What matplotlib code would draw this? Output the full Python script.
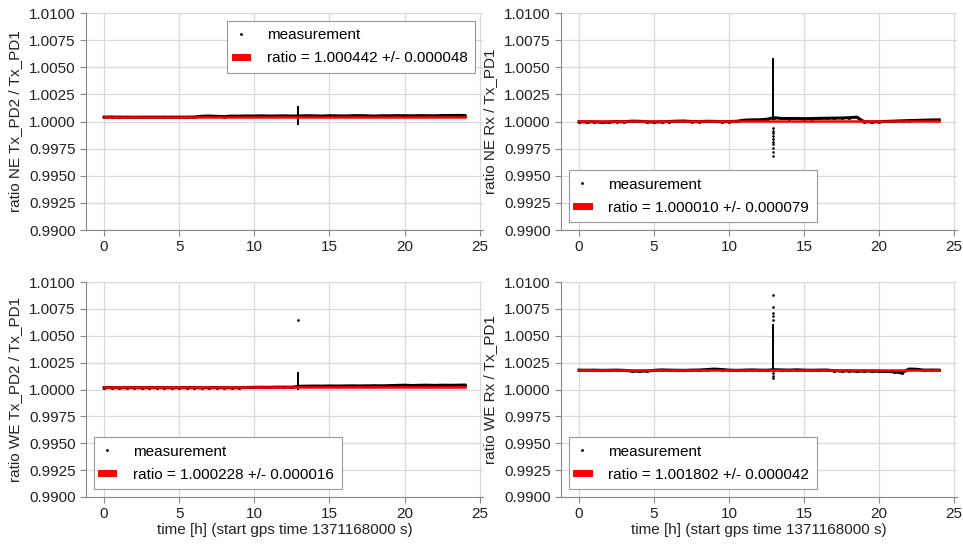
import matplotlib
matplotlib.use('Agg')
import matplotlib.pyplot as plt
from matplotlib.lines import Line2D

plt.rcParams['font.family'] = ['Liberation Sans', 'DejaVu Sans']
plt.rcParams['font.size'] = 11

# sampling times [h]
hours = [0.0, 0.5, 1.0, 1.5, 2.0, 2.5, 3.0, 3.5, 4.0, 4.5, 5.0, 5.5, 6.0,
         6.5, 7.0, 7.5, 8.0, 8.5, 9.0, 9.5, 10.0, 10.5, 11.0, 11.5, 12.0,
         12.5, 13.0, 13.5, 14.0, 14.5, 15.0, 15.5, 16.0, 16.5, 17.0, 17.5,
         18.0, 18.5, 19.0, 19.5, 20.0, 20.5, 21.0, 21.5, 22.0, 22.5, 23.0,
         23.5, 24.0]

ne_pd = [1.00040, 1.00041, 1.00040, 1.00040, 1.00039, 1.00040, 1.00040,
         1.00040, 1.00040, 1.00040, 1.00040, 1.00040, 1.00041,
         1.00048, 1.00050, 1.00047, 1.00045, 1.00050, 1.00049, 1.00051,
         1.00050, 1.00052, 1.00050, 1.00051, 1.00052, 1.00050, 1.00051,
         1.00053, 1.00052, 1.00050, 1.00053, 1.00052, 1.00051, 1.00053,
         1.00054, 1.00052, 1.00050, 1.00053, 1.00052, 1.00054, 1.00053,
         1.00052, 1.00054, 1.00053, 1.00052, 1.00055, 1.00055, 1.00056,
         1.00055]
ne_rx = [0.99998, 0.99996, 0.99998, 0.99993, 0.99995, 1.00000, 0.99997,
         1.00003, 1.00002, 0.99998, 0.99995, 0.99997, 1.00000, 1.00003,
         1.00004, 1.00000, 0.99999, 1.00002, 1.00001, 0.99998, 1.00000,
         1.00002, 1.00012, 1.00015, 1.00016, 1.00020, 1.00035, 1.00028,
         1.00027, 1.00028, 1.00026, 1.00027, 1.00029, 1.00030, 1.00031,
         1.00032, 1.00035, 1.00040, 0.99998, 0.99996, 0.99998, 1.00001,
         1.00003, 1.00006, 1.00008, 1.00010, 1.00012, 1.00014, 1.00015]
we_pd = [1.00017, 1.00018, 1.00016, 1.00017, 1.00018, 1.00016, 1.00017,
         1.00018, 1.00017, 1.00016, 1.00017, 1.00018, 1.00017, 1.00016,
         1.00017, 1.00018, 1.00017, 1.00016, 1.00017, 1.00019, 1.00020,
         1.00021, 1.00020, 1.00022, 1.00022, 1.00021,
         1.00030, 1.00031, 1.00032, 1.00031, 1.00033, 1.00032, 1.00033,
         1.00034, 1.00033, 1.00034, 1.00035, 1.00034, 1.00036, 1.00038,
         1.00040, 1.00037, 1.00039, 1.00040, 1.00038, 1.00040, 1.00039,
         1.00040, 1.00041]
we_rx = [1.00180, 1.00179, 1.00180, 1.00178, 1.00179, 1.00180, 1.00178,
         1.00172, 1.00170, 1.00172, 1.00178, 1.00182, 1.00180, 1.00179,
         1.00178, 1.00180, 1.00181, 1.00185, 1.00190, 1.00186, 1.00180,
         1.00178, 1.00180, 1.00182, 1.00180, 1.00179, 1.00184, 1.00182,
         1.00180, 1.00183, 1.00180, 1.00179, 1.00180, 1.00181, 1.00175,
         1.00172, 1.00174, 1.00170, 1.00172, 1.00171, 1.00170, 1.00168,
         1.00165, 1.00155, 1.00190, 1.00188, 1.00180, 1.00181, 1.00180]

# glitch around t = 12.9 h: values joined by a line, and isolated dots
spike_t = 12.9
ne_pd_spike = [1.00050, 1.0013, 1.0010, 1.0006, 0.9999, 0.9998, 1.00050]
ne_pd_dots = []
ne_rx_spike = [1.0002, 1.0058, 1.0050, 1.0040, 1.0030, 1.0020, 1.0010,
               1.0005, 1.0003]
ne_rx_dots = [0.9994, 0.99915, 0.9989, 0.99865, 0.9984, 0.99815, 0.9979,
              0.99755, 0.9972, 0.9968]
we_pd_spike = [1.00022, 1.0015, 1.0010, 1.0006, 1.0003, 1.00005, 1.00030]
we_pd_dots = [1.0065]
we_rx_spike = [1.0018, 1.0025, 1.0035, 1.0045, 1.0055, 1.0060, 1.0019]
we_rx_dots = [1.0065, 1.0068, 1.0071, 1.0077, 1.0088, 1.0015, 1.0013,
              1.0011]

ratios = [1.000442, 1.000010, 1.000228, 1.001802]
errors = [0.000048, 0.000079, 0.000016, 0.000042]
ylabels = ['ratio NE Tx_PD2 / Tx_PD1', 'ratio NE Rx / Tx_PD1',
           'ratio WE Tx_PD2 / Tx_PD1', 'ratio WE Rx / Tx_PD1']
xlabel = 'time [h] (start gps time 1371168000 s)'

series = [ne_pd, ne_rx, we_pd, we_rx]
spikes = [ne_pd_spike, ne_rx_spike, we_pd_spike, we_rx_spike]
dots = [ne_pd_dots, ne_rx_dots, we_pd_dots, we_rx_dots]
legend_loc = ['upper right', 'lower left', 'lower left', 'lower left']

fig = plt.figure(figsize=(9.63, 5.44), dpi=100)
positions = [[0.0893, 0.5772, 0.4120, 0.3989],
             [0.5826, 0.5772, 0.4112, 0.3989],
             [0.0893, 0.0864, 0.4120, 0.3952],
             [0.5826, 0.0864, 0.4112, 0.3952]]

for i in range(4):
    ax = fig.add_axes(positions[i])
    y = series[i]
    ax.plot(hours, y, '-', color='black', lw=2.2, zorder=2)
    ax.plot(hours, y, '.', color='black', ms=2.5, zorder=2)
    ax.plot([spike_t] * len(spikes[i]), spikes[i], '-', color='black',
            lw=1.3, zorder=2)
    if dots[i]:
        ax.plot([spike_t] * len(dots[i]), dots[i], '.', color='black',
                ms=1.8, zorder=2)
    ax.plot([hours[0], hours[-1]], [ratios[i], ratios[i]], '-',
            color='red', lw=1.8, zorder=3)

    ax.set_xlim(-1.2, 25.2)
    ax.set_ylim(0.99, 1.01)
    ax.set_xticks([0, 5, 10, 15, 20, 25])
    ax.set_yticks([0.99, 0.9925, 0.995, 0.9975, 1.0, 1.0025, 1.005,
                   1.0075, 1.01])
    ax.set_yticklabels(['%.4f' % v for v in ax.get_yticks()])
    ax.grid(True, color='#d9d9d9', lw=0.9)
    ax.set_axisbelow(True)
    for s in ['top', 'right']:
        ax.spines[s].set_visible(False)
    for s in ['left', 'bottom']:
        ax.spines[s].set_color('#888888')
    ax.tick_params(colors='#888888', labelcolor='#222222', labelsize=11,
                   length=4)
    ax.set_ylabel(ylabels[i], fontsize=11, color='#222222', labelpad=5)
    if i >= 2:
        ax.set_xlabel(xlabel, fontsize=11, color='#222222', labelpad=1)

    handles = [Line2D([], [], ls='none', marker='.', ms=2, color='black'),
               Line2D([], [], ls='-', lw=5, color='red')]
    labels = ['measurement',
              'ratio = %.6f +/- %.6f' % (ratios[i], errors[i])]
    leg = ax.legend(handles, labels, loc=legend_loc[i], fontsize=11,
                    handlelength=0.8, handletextpad=1.3, fancybox=False,
                    framealpha=1, edgecolor='#999999', borderpad=0.5,
                    labelspacing=0.6)
    leg.get_frame().set_linewidth(0.8)

fig.savefig('out.png', dpi=100)
